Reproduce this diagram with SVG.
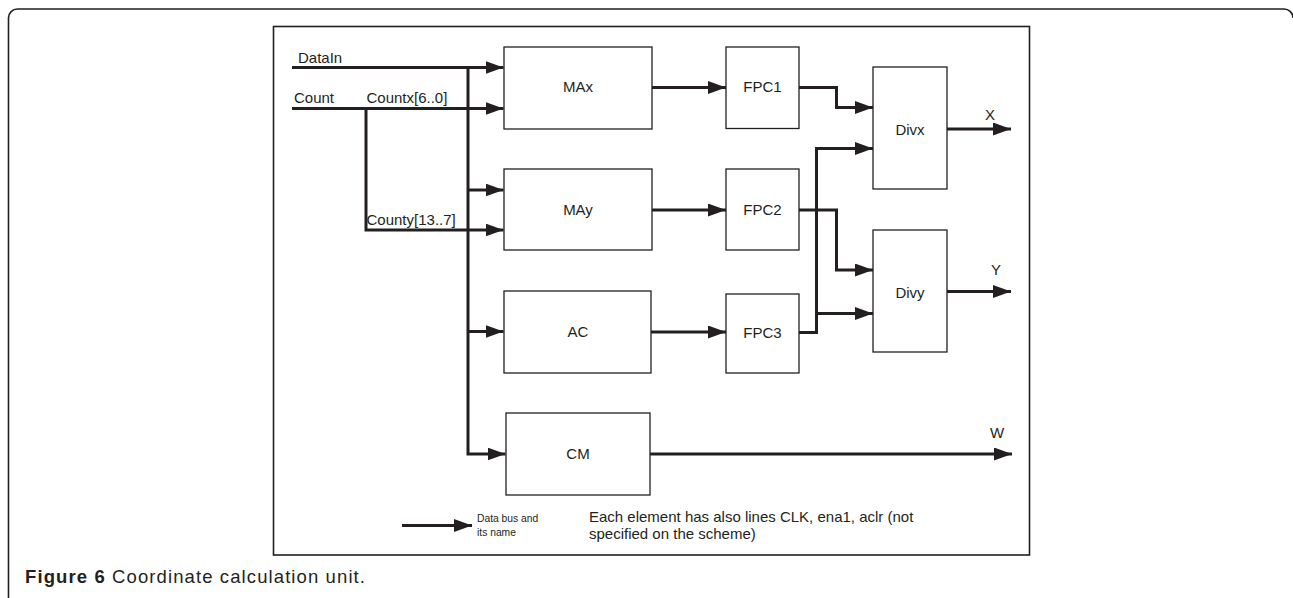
<svg xmlns="http://www.w3.org/2000/svg" width="1293" height="598" viewBox="0 0 1293 598">
<defs>
<style>
.frame{fill:none;stroke:#231f20;stroke-width:1.6}
.box{fill:#fff;stroke:#231f20;stroke-width:1.3}
.bus{fill:none;stroke:#231f20;stroke-width:3}
.t{font-family:"Liberation Sans",Arial,sans-serif;font-size:15px;fill:#231f20}
.c{text-anchor:middle}
.s{font-family:"Liberation Sans",Arial,sans-serif;font-size:10.3px;fill:#231f20}
.n{font-family:"Liberation Sans",Arial,sans-serif;font-size:15px;fill:#231f20}
.cap{font-family:"Liberation Sans",Arial,sans-serif;font-size:18.5px;fill:#231f20}
</style>
<marker id="ah" markerUnits="userSpaceOnUse" markerWidth="18" markerHeight="13" refX="18" refY="6.5" orient="auto">
<path d="M0,0 L18,6.5 L0,13 z" fill="#231f20"/>
</marker>
</defs>
<rect width="1293" height="598" fill="#fff"/>
<path class="frame" d="M8.5,598 V18 A9,9 0 0 1 17.5,9 H1284 A9,9 0 0 1 1293,18"/>
<rect class="frame" x="273.5" y="26.5" width="756" height="528.5" stroke-width="1.4"/>

<g id="MAx"><rect class="box" x="504" y="47" width="148" height="82"/><text class="t c" x="578" y="92">MAx</text></g>
<g id="MAy"><rect class="box" x="504" y="169" width="148" height="81"/><text class="t c" x="578" y="215">MAy</text></g>
<g id="AC"><rect class="box" x="504" y="291" width="147" height="82"/><text class="t c" x="578" y="337">AC</text></g>
<g id="CM"><rect class="box" x="506" y="413" width="144" height="82"/><text class="t c" x="578" y="459">CM</text></g>
<g id="FPC1"><rect class="box" x="726" y="47" width="73" height="81.5"/><text class="t c" x="762.5" y="92">FPC1</text></g>
<g id="FPC2"><rect class="box" x="726" y="169" width="73" height="81"/><text class="t c" x="762.5" y="215">FPC2</text></g>
<g id="FPC3"><rect class="box" x="726" y="294" width="73" height="79"/><text class="t c" x="762.5" y="338">FPC3</text></g>
<g id="Divx"><rect class="box" x="873" y="67" width="74" height="122"/><text class="t c" x="910" y="135">Divx</text></g>
<g id="Divy"><rect class="box" x="873" y="230" width="74" height="122"/><text class="t c" x="910" y="298">Divy</text></g>

<g id="connectors">
<path class="bus" d="M292,67.5 H503.5" marker-end="url(#ah)"/>
<path class="bus" d="M292,108.5 H503.5" marker-end="url(#ah)"/>
<path class="bus" d="M366,108.5 V230 H503.5" marker-end="url(#ah)"/>
<path class="bus" d="M468,67.5 V454 H505.5" marker-end="url(#ah)"/>
<path class="bus" d="M468,190 H503.5" marker-end="url(#ah)"/>
<path class="bus" d="M468,331.5 H503.5" marker-end="url(#ah)"/>
<path class="bus" d="M652,87.5 H726" marker-end="url(#ah)"/>
<path class="bus" d="M652,210 H726" marker-end="url(#ah)"/>
<path class="bus" d="M651,332 H726" marker-end="url(#ah)"/>
<path class="bus" d="M799,87.5 H836.5 V107.5 H873" marker-end="url(#ah)"/>
<path class="bus" d="M799,332.5 H816.5 V148.5 H873" marker-end="url(#ah)"/>
<path class="bus" d="M816.5,313.5 H873" marker-end="url(#ah)"/>
<path class="bus" d="M799,210 H836.5 V270 H873" marker-end="url(#ah)"/>
<path class="bus" d="M947,129 H1011" marker-end="url(#ah)"/>
<path class="bus" d="M947,291.5 H1011" marker-end="url(#ah)"/>
<path class="bus" d="M650,454 H1012" marker-end="url(#ah)"/>
<path class="bus" d="M402,525.5 H472" marker-end="url(#ah)"/>
</g>

<g id="labels">
<text class="t" x="298" y="62.5">DataIn</text>
<text class="t" x="294" y="103">Count</text>
<text class="t" x="366.5" y="103">Countx[6..0]</text>
<text class="t" x="366.5" y="225">County[13..7]</text>
<text class="t c" x="990" y="120">X</text>
<text class="t c" x="996" y="275">Y</text>
<text class="t c" x="997" y="438">W</text>
<text class="s" x="477" y="522">Data bus and</text>
<text class="s" x="477" y="536">its name</text>
<text class="n" x="589" y="522">Each element has also lines CLK, ena1, aclr (not</text>
<text class="n" x="589" y="539">specified on the scheme)</text>
<text class="cap" x="25" y="583" textLength="340" lengthAdjust="spacing"><tspan font-weight="bold">Figure 6</tspan> Coordinate calculation unit.</text>
</g>
</svg>
